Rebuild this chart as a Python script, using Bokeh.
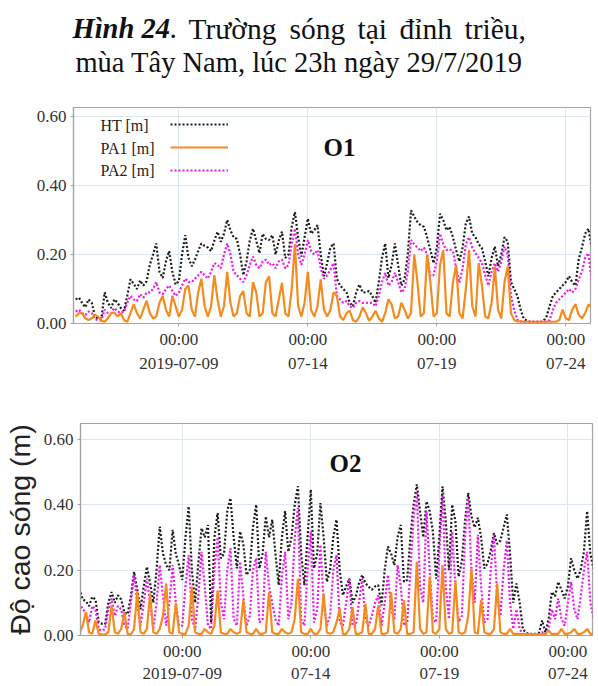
import pandas as pd
from bokeh.plotting import figure
from bokeh.layouts import column
from bokeh.models import (Range1d, FixedTicker, NumeralTickFormatter, Legend,
                          LegendItem, Label, ColumnDataSource)
from bokeh.embed import file_html
from bokeh.resources import INLINE

# ---------------------------------------------------------------- data
# 3-hourly wave heights (m), 2019-07-05 00:00 .. 2019-07-25 00:00, one row per day
times = pd.date_range("2019-07-05 00:00", "2019-07-25 00:00", freq="3h")

# station O1
o1_ht = [
    0.070, 0.075, 0.060, 0.047, 0.070, 0.060, 0.020, 0.013,
    0.015, 0.090, 0.060, 0.045, 0.070, 0.060, 0.045, 0.037,
    0.080, 0.128, 0.115, 0.100, 0.125, 0.110, 0.123, 0.170,
    0.200, 0.232, 0.150, 0.132, 0.180, 0.210, 0.150, 0.113,
    0.123, 0.200, 0.256, 0.190, 0.166, 0.185, 0.210, 0.232,
    0.225, 0.220, 0.210, 0.240, 0.266, 0.237, 0.260, 0.300,
    0.270, 0.250, 0.245, 0.200, 0.140, 0.180, 0.240, 0.275,
    0.240, 0.204, 0.260, 0.245, 0.242, 0.256, 0.200, 0.240,
    0.266, 0.190, 0.200, 0.280, 0.323, 0.250, 0.194, 0.250,
    0.304, 0.260, 0.270, 0.285, 0.200, 0.137, 0.175, 0.220,
    0.232, 0.130, 0.110, 0.100, 0.090, 0.060, 0.050, 0.090,
    0.113, 0.090, 0.090, 0.094, 0.080, 0.060, 0.120, 0.190,
    0.232, 0.132, 0.170, 0.232, 0.170, 0.110, 0.128, 0.200,
    0.328, 0.310, 0.294, 0.285, 0.280, 0.250, 0.213, 0.175,
    0.220, 0.318, 0.300, 0.270, 0.280, 0.250, 0.213, 0.180,
    0.220, 0.290, 0.310, 0.260, 0.250, 0.230, 0.218, 0.180,
    0.137, 0.190, 0.223, 0.166, 0.200, 0.250, 0.237, 0.120,
    0.100, 0.080, 0.040, 0.013, 0.008, 0.005, 0.005, 0.005,
    0.005, 0.006, 0.020, 0.050, 0.080, 0.090, 0.100, 0.110,
    0.120, 0.137, 0.120, 0.110, 0.185, 0.220, 0.260, 0.275,
    0.223,
]
o1_pa1 = [
    0.020, 0.030, 0.030, 0.015, 0.010, 0.015, 0.025, 0.020,
    0.008, 0.005, 0.015, 0.030, 0.032, 0.020, 0.030, 0.010,
    0.005, 0.030, 0.056, 0.030, 0.015, 0.040, 0.066, 0.030,
    0.015, 0.020, 0.060, 0.080, 0.040, 0.020, 0.080, 0.050,
    0.020, 0.040, 0.100, 0.110, 0.040, 0.020, 0.090, 0.130,
    0.050, 0.020, 0.050, 0.140, 0.070, 0.020, 0.050, 0.150,
    0.060, 0.020, 0.030, 0.080, 0.094, 0.030, 0.020, 0.120,
    0.090, 0.020, 0.030, 0.120, 0.137, 0.030, 0.020, 0.070,
    0.118, 0.030, 0.020, 0.100, 0.230, 0.050, 0.020, 0.060,
    0.150, 0.040, 0.020, 0.050, 0.128, 0.040, 0.020, 0.040,
    0.090, 0.080, 0.020, 0.010, 0.030, 0.037, 0.010, 0.005,
    0.020, 0.047, 0.030, 0.008, 0.020, 0.037, 0.015, 0.005,
    0.030, 0.070, 0.055, 0.015, 0.020, 0.060, 0.040, 0.015,
    0.030, 0.200, 0.120, 0.020, 0.030, 0.200, 0.120, 0.020,
    0.030, 0.170, 0.213, 0.030, 0.020, 0.120, 0.170, 0.030,
    0.015, 0.100, 0.213, 0.050, 0.020, 0.175, 0.110, 0.020,
    0.015, 0.060, 0.165, 0.040, 0.015, 0.120, 0.165, 0.030,
    0.010, 0.006, 0.006, 0.005, 0.005, 0.005, 0.005, 0.005,
    0.005, 0.005, 0.005, 0.005, 0.005, 0.005, 0.010, 0.040,
    0.015, 0.010, 0.040, 0.056, 0.025, 0.015, 0.030, 0.055,
    0.050,
]
o1_pa2 = [
    0.035, 0.040, 0.030, 0.025, 0.035, 0.030, 0.012, 0.010,
    0.010, 0.040, 0.030, 0.030, 0.045, 0.035, 0.030, 0.035,
    0.060, 0.080, 0.070, 0.065, 0.085, 0.075, 0.090, 0.090,
    0.100, 0.120, 0.090, 0.085, 0.100, 0.110, 0.095, 0.080,
    0.090, 0.110, 0.130, 0.120, 0.120, 0.130, 0.140, 0.150,
    0.140, 0.130, 0.150, 0.175, 0.170, 0.160, 0.200, 0.232,
    0.200, 0.150, 0.140, 0.130, 0.120, 0.140, 0.170, 0.194,
    0.170, 0.160, 0.180, 0.185, 0.170, 0.175, 0.160, 0.180,
    0.185, 0.160, 0.170, 0.230, 0.275, 0.200, 0.170, 0.200,
    0.242, 0.210, 0.200, 0.213, 0.160, 0.130, 0.140, 0.156,
    0.175, 0.080, 0.070, 0.060, 0.065, 0.050, 0.045, 0.060,
    0.065, 0.060, 0.060, 0.060, 0.060, 0.050, 0.080, 0.120,
    0.147, 0.110, 0.120, 0.147, 0.120, 0.090, 0.100, 0.150,
    0.242, 0.230, 0.220, 0.210, 0.220, 0.200, 0.137, 0.140,
    0.180, 0.260, 0.230, 0.213, 0.215, 0.210, 0.160, 0.118,
    0.160, 0.230, 0.250, 0.220, 0.204, 0.190, 0.175, 0.140,
    0.110, 0.150, 0.175, 0.150, 0.180, 0.223, 0.200, 0.080,
    0.040, 0.010, 0.006, 0.005, 0.005, 0.005, 0.005, 0.005,
    0.005, 0.005, 0.005, 0.010, 0.040, 0.060, 0.070, 0.080,
    0.090, 0.100, 0.090, 0.100, 0.128, 0.150, 0.190, 0.204,
    0.128,
]

# station O2
o2_ht = [
    0.143, 0.110, 0.105, 0.090, 0.118, 0.110, 0.040, 0.036,
    0.035, 0.100, 0.133, 0.100, 0.123, 0.110, 0.070, 0.065,
    0.120, 0.195, 0.140, 0.080, 0.150, 0.210, 0.160, 0.100,
    0.200, 0.333, 0.250, 0.215, 0.200, 0.323, 0.250, 0.215,
    0.170, 0.300, 0.395, 0.200, 0.100, 0.220, 0.328, 0.300,
    0.338, 0.040, 0.300, 0.374, 0.236, 0.250, 0.380, 0.420,
    0.300, 0.205, 0.318, 0.280, 0.185, 0.200, 0.330, 0.400,
    0.205, 0.250, 0.364, 0.300, 0.354, 0.250, 0.154, 0.300,
    0.380, 0.256, 0.300, 0.400, 0.456, 0.250, 0.154, 0.300,
    0.446, 0.205, 0.250, 0.405, 0.300, 0.164, 0.200, 0.300,
    0.354, 0.200, 0.123, 0.150, 0.174, 0.100, 0.120, 0.160,
    0.185, 0.160, 0.149, 0.140, 0.150, 0.154, 0.092, 0.200,
    0.272, 0.250, 0.215, 0.300, 0.338, 0.164, 0.170, 0.300,
    0.400, 0.462, 0.380, 0.300, 0.410, 0.380, 0.318, 0.174,
    0.300, 0.456, 0.350, 0.200, 0.400, 0.350, 0.180, 0.226,
    0.350, 0.436, 0.364, 0.330, 0.360, 0.300, 0.205, 0.220,
    0.260, 0.313, 0.280, 0.290, 0.330, 0.370, 0.250, 0.100,
    0.159, 0.100, 0.020, 0.008, 0.005, 0.005, 0.005, 0.008,
    0.046, 0.010, 0.050, 0.133, 0.120, 0.164, 0.140, 0.113,
    0.150, 0.236, 0.200, 0.174, 0.200, 0.256, 0.380, 0.250,
    0.205,
]
o2_pa1 = [
    0.005, 0.030, 0.072, 0.010, 0.005, 0.046, 0.005, 0.003,
    0.003, 0.010, 0.092, 0.010, 0.005, 0.020, 0.072, 0.005,
    0.003, 0.020, 0.133, 0.010, 0.005, 0.020, 0.128, 0.010,
    0.005, 0.020, 0.060, 0.159, 0.010, 0.005, 0.100, 0.010,
    0.005, 0.005, 0.030, 0.149, 0.010, 0.005, 0.005, 0.020,
    0.010, 0.005, 0.030, 0.138, 0.010, 0.005, 0.005, 0.020,
    0.010, 0.005, 0.010, 0.108, 0.010, 0.005, 0.005, 0.020,
    0.005, 0.005, 0.010, 0.133, 0.010, 0.005, 0.005, 0.020,
    0.010, 0.005, 0.010, 0.050, 0.174, 0.010, 0.005, 0.005,
    0.020, 0.005, 0.005, 0.020, 0.128, 0.010, 0.005, 0.010,
    0.040, 0.082, 0.005, 0.005, 0.020, 0.087, 0.005, 0.005,
    0.010, 0.097, 0.005, 0.005, 0.020, 0.092, 0.005, 0.005,
    0.010, 0.133, 0.010, 0.005, 0.020, 0.108, 0.005, 0.005,
    0.010, 0.226, 0.020, 0.005, 0.010, 0.180, 0.010, 0.005,
    0.020, 0.215, 0.020, 0.005, 0.010, 0.169, 0.010, 0.005,
    0.010, 0.060, 0.205, 0.010, 0.005, 0.108, 0.010, 0.005,
    0.005, 0.020, 0.159, 0.010, 0.005, 0.005, 0.020, 0.005,
    0.005, 0.004, 0.004, 0.004, 0.004, 0.004, 0.004, 0.004,
    0.004, 0.004, 0.015, 0.004, 0.005, 0.005, 0.020, 0.005,
    0.005, 0.010, 0.020, 0.005, 0.005, 0.010, 0.020, 0.005,
    0.005,
]
o2_pa2 = [
    0.100, 0.080, 0.070, 0.040, 0.090, 0.080, 0.020, 0.015,
    0.020, 0.080, 0.113, 0.060, 0.090, 0.080, 0.030, 0.020,
    0.100, 0.185, 0.100, 0.030, 0.100, 0.174, 0.100, 0.020,
    0.100, 0.215, 0.120, 0.030, 0.100, 0.215, 0.100, 0.030,
    0.030, 0.150, 0.246, 0.050, 0.020, 0.120, 0.256, 0.150,
    0.030, 0.020, 0.200, 0.300, 0.100, 0.050, 0.200, 0.267,
    0.050, 0.030, 0.226, 0.120, 0.030, 0.060, 0.200, 0.236,
    0.040, 0.050, 0.256, 0.150, 0.100, 0.050, 0.030, 0.180,
    0.256, 0.050, 0.100, 0.300, 0.390, 0.050, 0.030, 0.200,
    0.318, 0.040, 0.080, 0.277, 0.100, 0.030, 0.060, 0.200,
    0.246, 0.040, 0.030, 0.100, 0.174, 0.030, 0.030, 0.100,
    0.174, 0.050, 0.030, 0.060, 0.100, 0.123, 0.030, 0.100,
    0.185, 0.080, 0.050, 0.215, 0.150, 0.030, 0.040, 0.200,
    0.360, 0.440, 0.150, 0.100, 0.380, 0.200, 0.050, 0.040,
    0.250, 0.436, 0.150, 0.050, 0.318, 0.150, 0.040, 0.060,
    0.300, 0.420, 0.200, 0.100, 0.308, 0.150, 0.040, 0.050,
    0.200, 0.308, 0.120, 0.060, 0.200, 0.290, 0.100, 0.020,
    0.080, 0.020, 0.005, 0.004, 0.004, 0.004, 0.004, 0.004,
    0.010, 0.004, 0.020, 0.080, 0.050, 0.113, 0.050, 0.030,
    0.100, 0.164, 0.080, 0.050, 0.120, 0.200, 0.256, 0.100,
    0.050,
]

series_labels = ["HT  [m]", "PA1 [m]", "PA2 [m]"]
tick_dates = ["2019-07-09", "2019-07-14", "2019-07-19", "2019-07-24"]
tick_texts = ["00:00\n2019-07-09", "00:00\n07-14", "00:00\n07-19", "00:00\n07-24"]
y_ticks = [0.0, 0.2, 0.4, 0.6]

# heading: bold-italic figure number, then the justified remainder word by word
head_number = "Hình 24"
head_words = [".", "Trường", "sóng", "tại", "đỉnh", "triều,"]
head_line2 = "mùa Tây Nam, lúc 23h ngày 29/7/2019"

# ---------------------------------------------------------------- style
SERIF = "Liberation Serif"
C_HT, C_PA1, C_PA2 = "#1c1c1c", "#f58a1f", "#f015f0"
GRID = "#dce7f2"
FRAME = "#a3a3a3"
W = 598


def ms(ts):
    return pd.Timestamp(ts).value / 1e6


def frame_point(p, fw, fh, dx, dy):
    """Data coordinates of a point dx, dy pixels from the frame's top-left corner."""
    xr, yr = p.x_range, p.y_range
    return (xr.start + (xr.end - xr.start) * dx / fw,
            yr.end - (yr.end - yr.start) * dy / fh)


def panel(ht, pa1, pa2, x0, x1, ymax, height, left, right, top, bottom, tag,
          line_height):
    p = figure(width=W, height=height, x_axis_type="datetime",
               x_range=Range1d(ms(x0), ms(x1)), y_range=Range1d(0, ymax),
               output_backend="svg", toolbar_location=None, frame_align=False,
               min_border_left=left, min_border_right=right,
               min_border_top=top, min_border_bottom=bottom)
    p.background_fill_color = "white"
    p.border_fill_color = "white"
    p.outline_line_color = FRAME
    p.outline_line_width = 1.2

    src = ColumnDataSource(dict(t=times, ht=ht, pa1=pa1, pa2=pa2))
    r_ht = p.line("t", "ht", source=src, line_color=C_HT, line_width=2.2,
                  line_dash="2 2")
    r_pa2 = p.line("t", "pa2", source=src, line_color=C_PA2, line_width=2.2,
                   line_dash="2 2")
    r_pa1 = p.line("t", "pa1", source=src, line_color=C_PA1, line_width=2.2)

    xt = [ms(d) for d in tick_dates]
    p.xaxis.ticker = FixedTicker(ticks=xt)
    p.xgrid.ticker = FixedTicker(ticks=xt)
    p.xaxis.major_label_overrides = {t: s for t, s in zip(xt, tick_texts)}
    p.yaxis.ticker = FixedTicker(ticks=y_ticks)
    p.ygrid.ticker = FixedTicker(ticks=y_ticks)
    p.yaxis.formatter = NumeralTickFormatter(format="0.00")

    for g in (p.xgrid, p.ygrid):
        g.grid_line_color = GRID
        g.grid_line_width = 1
    for ax in (p.xaxis, p.yaxis):
        ax.axis_line_color = FRAME
        ax.axis_line_width = 1.2
        ax.major_tick_line_color = FRAME
        ax.major_tick_out = 3
        ax.major_tick_in = 0
        ax.minor_tick_line_color = None
        ax.major_label_text_font = SERIF
        ax.major_label_text_font_size = "17px"
        ax.major_label_text_color = "#333333"
    p.xaxis.major_label_standoff = 3
    p.xaxis.major_label_text_line_height = line_height
    p.yaxis.major_label_standoff = 4

    fw = W - left - right
    fh = height - top - bottom
    tx, ty = frame_point(p, fw, fh, 250, 40)
    p.add_layout(Label(x=tx, y=ty, text=tag, text_font=SERIF,
                       text_font_style="bold", text_font_size="25px",
                       text_color="#111111", text_baseline="middle"))
    return p, (r_ht, r_pa1, r_pa2), fw, fh


# ---------------------------------------------------------------- heading
TH = 90
tfig = figure(width=W, height=TH, x_range=Range1d(0, W), y_range=Range1d(0, TH),
              output_backend="svg", toolbar_location=None, frame_align=False,
              min_border=0, min_border_left=0, min_border_right=0,
              min_border_top=0, min_border_bottom=0,
              x_axis_location=None, y_axis_location=None)
tfig.grid.visible = False
tfig.outline_line_color = None
tfig.background_fill_color = "white"
tfig.border_fill_color = "white"


def head_label(text, px, py, style="normal", align="left", size="28.5px"):
    tfig.add_layout(Label(x=px, y=TH - py, text=text, text_font=SERIF,
                          text_font_style=style, text_font_size=size,
                          text_align=align, text_baseline="middle",
                          text_color="#111111"))


head_label(head_number, 72, 28, style="bold italic")
for word, px in zip(head_words, [169, 188, 289, 357, 399, 464]):
    head_label(word, px, 28, size="29.5px")
head_label(head_line2, 298.5, 62, align="center")

# ---------------------------------------------------------------- O1
p1, (h1, a1, b1), fw1, fh1 = panel(o1_ht, o1_pa1, o1_pa2,
                                   "2019-07-04 22:00", "2019-07-24 23:00", 0.626,
                                   308, 73, 8, 17, 75, "O1", 1.3)
legend = Legend(items=[LegendItem(label=" ", renderers=[h1]),
                       LegendItem(label=" ", renderers=[a1]),
                       LegendItem(label=" ", renderers=[b1])],
                location=(97, 143), orientation="vertical", padding=0, margin=0,
                spacing=3, glyph_width=58, glyph_height=20, label_standoff=0,
                label_width=0, label_height=20, label_text_font_size="8px",
                background_fill_alpha=0, border_line_alpha=0)
p1.add_layout(legend)
for k, name in enumerate(series_labels):
    lx, ly = frame_point(p1, fw1, fh1, 27, 18 + 22.5 * k)
    p1.add_layout(Label(x=lx, y=ly, text=name, text_font=SERIF,
                        text_font_size="16px", text_color="#222222",
                        text_baseline="middle"))

# ---------------------------------------------------------------- O2
p2, _, _, _ = panel(o2_ht, o2_pa1, o2_pa2,
                    "2019-07-05 01:00", "2019-07-24 23:00", 0.648,
                    288, 78, 6, 25, 49, "O2", 1.2)
p2.yaxis.axis_label = "Độ cao sóng (m)"
p2.yaxis.axis_label_text_font = "Liberation Sans"
p2.yaxis.axis_label_text_font_style = "normal"
p2.yaxis.axis_label_text_font_size = "28.5px"
p2.yaxis.axis_label_text_color = "#222222"
p2.yaxis.axis_label_standoff = 5

page = column(tfig, p1, p2, spacing=0)
open("out.html", "w").write(file_html(page, INLINE))
